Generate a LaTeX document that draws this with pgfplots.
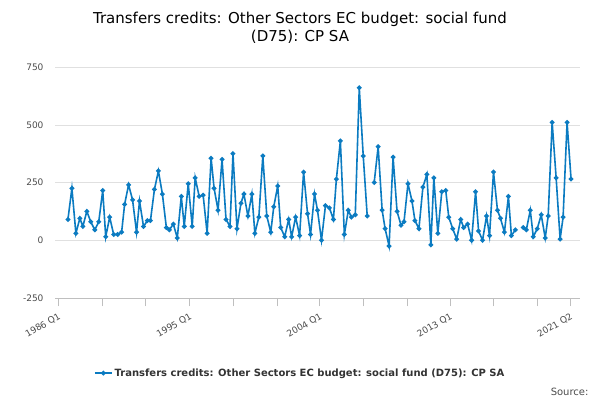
\documentclass[border=0pt]{standalone}
\usepackage{pgfplots}
\pgfplotsset{compat=1.18}
\usepackage{fontspec}
\setmainfont{DejaVu Sans}
\definecolor{ser}{HTML}{0B7BC1}
\begin{document}
\begin{tikzpicture}[x=1pt,y=1pt]
\fill[white] (0,0) rectangle (600,400);
\useasboundingbox (0,0) rectangle (600,400);
\node[font=\fontsize{15}{18}\selectfont, align=center] at (300,372) {Transfers credits: Other Sectors EC budget: social fund\\(D75): CP SA};
\node[font=\fontsize{10}{12}\selectfont, anchor=east, text=black!70] at (592,8) {Source:};
\begin{axis}[at={(55pt,102pt)}, anchor=south west, scale only axis, width=525pt, height=231pt,
  xmin=52, xmax=580, ymin=-250, ymax=750,
  ytick={-250,0,250,500,750}, ymajorgrids, grid style={black!12},
  xtick={55,187,318,449,570}, xticklabels={1986 Q1,1995 Q1,2004 Q1,2013 Q1,2021 Q2},
  minor xtick={99,143,231,275,362,406,493,537},
  x tick label style={rotate=30, anchor=north east, font=\fontsize{9}{10}\selectfont, text=black!70, yshift=-2pt},
  y tick label style={font=\fontsize{9}{10}\selectfont, text=black!70},
  /pgf/number format/assume math mode=true,
  axis y line=left, axis x line=bottom, y axis line style={draw=none},
  x axis line style={black!25, -}, ytick style={draw=none},
  xtick style={black!25}, minor tick length=8pt, major tick length=8pt,
  tick align=outside,
  unbounded coords=jump,
  legend style={at={(0.467,-0.325)}, anchor=center, draw=none, font=\bfseries\fontsize{10}{12}\selectfont, text=black!80},
  legend cell align=left]
\addplot[ser, line width=1.6pt, mark=*, mark size=1.5pt] coordinates {
(65,90)(69,225)(73,30)(77,95)(80,60)(84,125)(88,80)(92,45)(96,80)(100,215)(103,15)(107,100)(111,25)(115,25)(119,35)(122,155)(126,240)(130,175)(134,35)(137,170)(141,60)(145,85)(148,85)(152,220)(156,300)(160,200)(164,55)(167,45)(171,70)(175,10)(179,190)(182,60)(186,245)(190,60)(193,270)(197,190)(201,195)(205,30)(209,355)(212,225)(216,130)(220,350)(224,90)(228,60)(231,375)(235,50)(239,160)(242,200)(246,105)(250,200)(253,30)(257,100)(261,365)(265,105)(269,35)(272,145)(276,235)(279,55)(283,15)(287,90)(290,15)(294,100)(298,20)(302,295)(306,115)(309,25)(313,200)(316,130)(320,0)(324,150)(328,140)(332,90)(335,265)(339,430)(343,25)(347,130)(350,100)(354,110)(358,660)(362,365)(366,105)(369.5,nan)(373,250)(377,405)(381,130)(384,50)(388,-25)(392,360)(396,125)(400,65)(403,80)(407,245)(411,170)(414,85)(418,50)(422,230)(426,285)(430,-20)(433,270)(437,30)(441,210)(445,215)(448,100)(452,50)(456,5)(460,90)(463,55)(467,70)(471,0)(475,210)(478,40)(482,0)(486,105)(489,20)(493,295)(497,130)(500,95)(504,35)(508,190)(511,20)(515,45)(519,nan)(523,55)(526,45)(530,130)(533,15)(537,50)(541,110)(545,10)(548,105)(552,510)(556,270)(560,5)(563,100)(567,510)(571,265)};
\addlegendentry{Transfers credits: Other Sectors EC budget: social fund (D75): CP SA}
\end{axis}
\end{tikzpicture}
\end{document}
